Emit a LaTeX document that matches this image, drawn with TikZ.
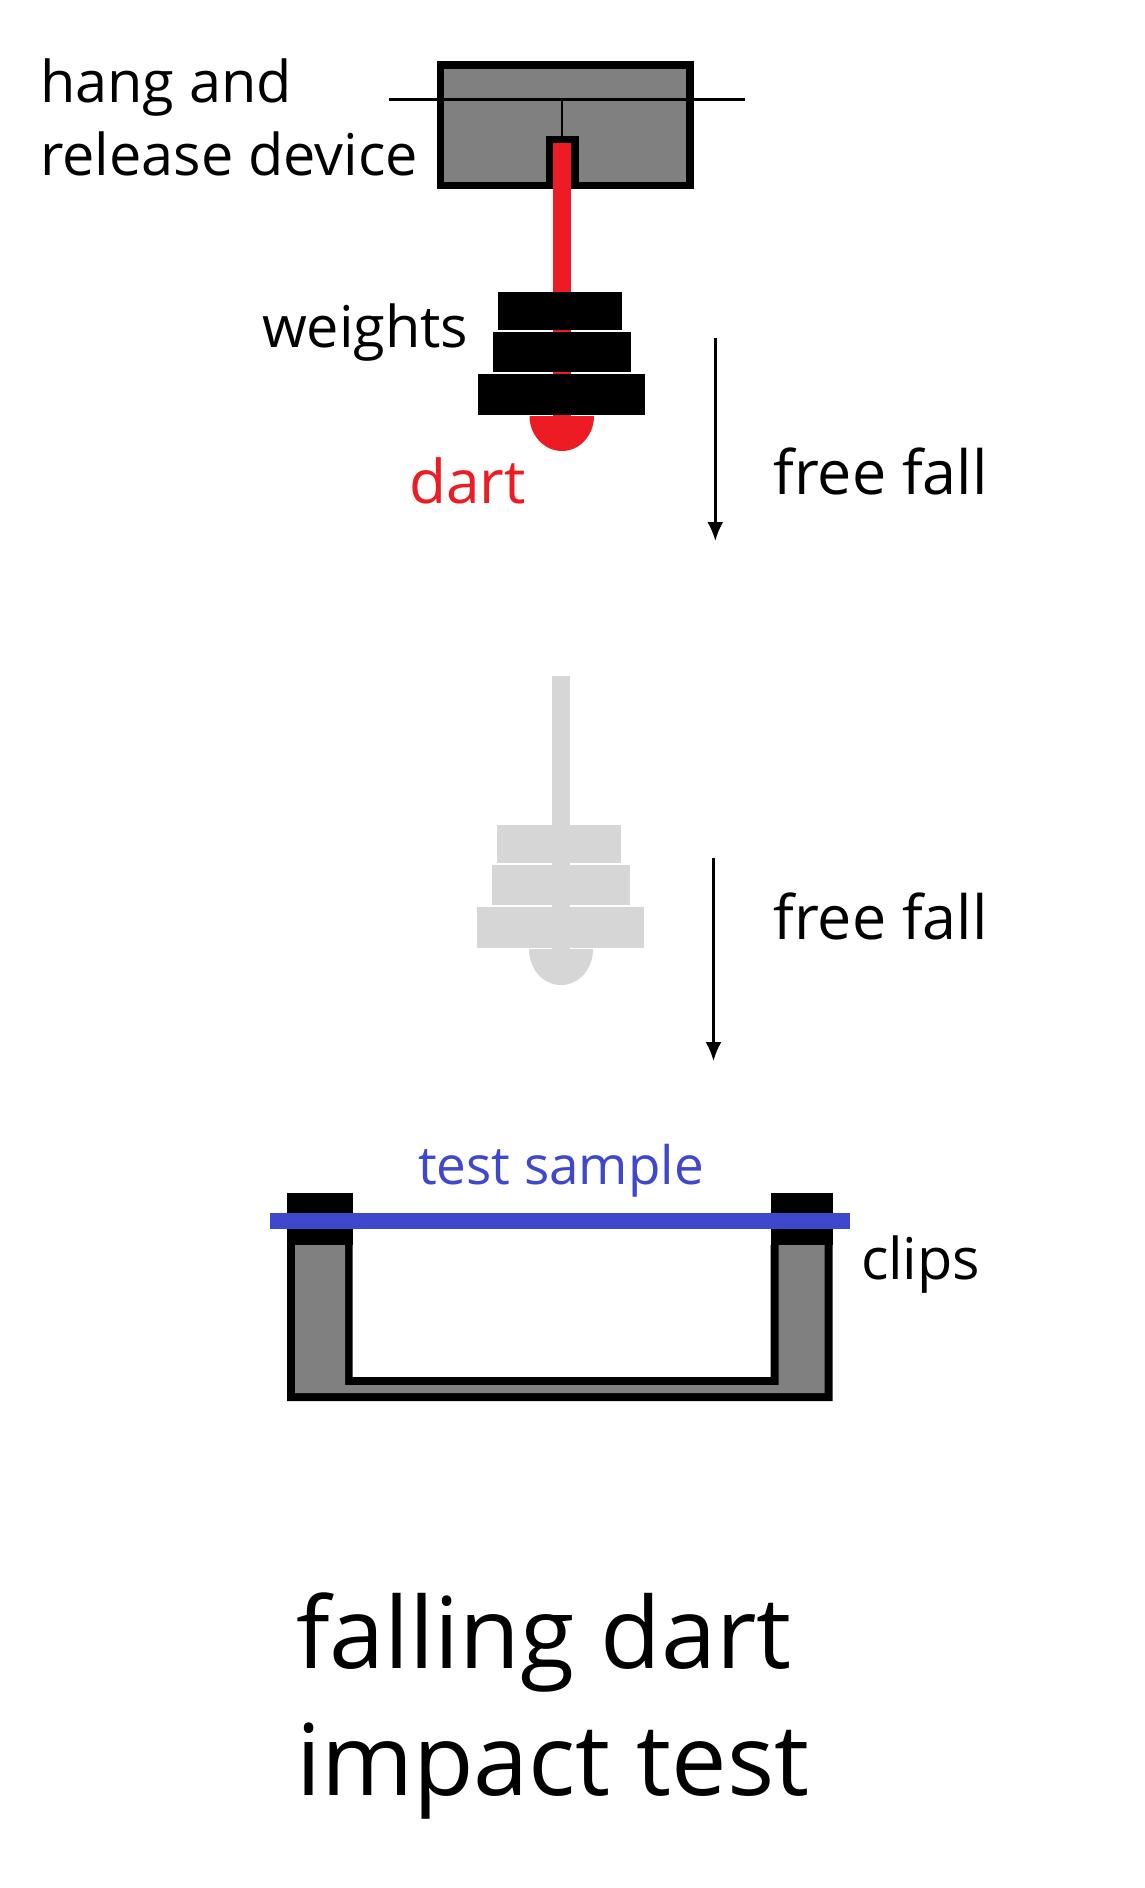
\documentclass[tikz,border=0pt]{standalone}
\usepackage{fontspec}
\setmainfont{Open Sans}
\usetikzlibrary{arrows.meta}
\definecolor{dartred}{HTML}{ED1C24}
\definecolor{sampleblue}{HTML}{3F48CC}
\definecolor{devgray}{HTML}{808080}
\definecolor{ghost}{HTML}{D6D6D6}
\newcommand{\txt}[1]{\fontsize{#1}{#1}\selectfont}
\tikzset{
  label/.style={anchor=base west,inner sep=0pt,outer sep=0pt,text=black},
  mid/.style={label,font=\txt{57.6}},
  fallfont/.style={label,font=\txt{61}},
  big/.style={label,font=\txt{99}},
  fallarrow/.style={-{Latex[length=19pt,width=16pt]},line width=2.5pt,black},
  solidblack/.style={fill=black,draw=none},
  ghostfill/.style={fill=ghost,draw=none},
}
\begin{document}
\begin{tikzpicture}[x=1pt,y=-1pt]
\path[use as bounding box,fill=white] (0,0) rectangle (1144,1888);
% device
\draw[line width=7.5pt,fill=devgray] (440.5,65) rectangle (690,185.5);
\fill[black] (389,98.4) rectangle (745,101.4);
\fill[black] (561,100) rectangle (563,136);
\fill[black] (545.5,135.7) rectangle (579,189);
% dart
\fill[dartred] (553,143) rectangle (571,420);
\fill[dartred] (529.5,416) .. controls (529.5,435) and (544,451) .. (562,451) .. controls (580,451) and (594,435) .. (594,416) -- cycle;
\fill[solidblack] (498,291.5) rectangle (622,329.6);
\fill[solidblack] (493,332) rectangle (631,372);
\fill[solidblack] (478,374) rectangle (645,414.6);
% ghost
\fill[ghostfill] (551.7,676) rectangle (569.8,950);
\fill[ghostfill] (529,949) .. controls (529,969) and (543,985) .. (561,985) .. controls (579,985) and (593,969) .. (593,949) -- cycle;
\fill[ghostfill] (497,825) rectangle (621,863);
\fill[ghostfill] (492,865) rectangle (630,905);
\fill[ghostfill] (477,907) rectangle (644,948);
% holder
\fill[black] (287,1193) rectangle (352.5,1245);
\fill[black] (770.5,1193) rectangle (832.5,1245);
\fill[black] (287,1245) -- (352.5,1245) -- (352.5,1377) -- (770.5,1377) -- (770.5,1245) -- (832.5,1245) -- (832.5,1401) -- (287,1401) -- cycle;
\fill[devgray] (295,1245) -- (345,1245) -- (345,1385) -- (778.5,1385) -- (778.5,1245) -- (824.5,1245) -- (824.5,1393) -- (295,1393) -- cycle;
\fill[sampleblue] (270,1213) rectangle (850,1229);
% arrows
\coordinate (a1s) at (715.3,338); \coordinate (a1e) at (715.3,541);
\coordinate (a2s) at (713.5,858); \coordinate (a2e) at (713.5,1061);
\draw[fallarrow] (a1s) -- (a1e);
\draw[fallarrow] (a2s) -- (a2e);
% text
\node[mid] (hang) at (40,102.5) {hang and};
\node[mid] (release) at (40,175) {release device};
\node[mid] (weights) at (262,347) {weights};
\node[fallfont,font=\txt{60.4},text=dartred] (dart) at (409,503) {dart};
\node[fallfont] (ff1) at (773.5,494) {free fall};
\node[fallfont] (ff2) at (773.5,939.5) {free fall};
\node[mid,font=\txt{53},text=sampleblue] (sample) at (418,1184) {test sample};
\node[mid] (clips) at (861,1279) {clips};
\node[big] (t1) at (296,1668) {falling dart};
\node[big] (t2) at (296,1795) {impact test};
\end{tikzpicture}
\end{document}
